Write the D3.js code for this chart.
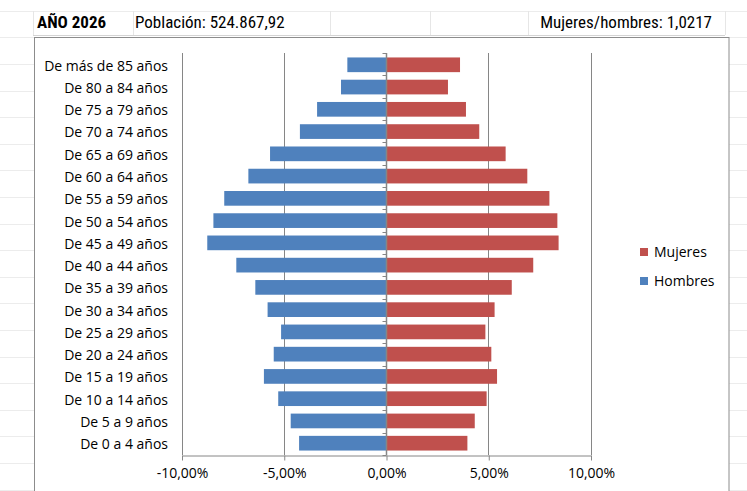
<!DOCTYPE html>
<html><head><meta charset="utf-8">
<script src="https://cdn.jsdelivr.net/npm/d3@7"></script>
<style>
body{margin:0;background:#fff;}
svg{display:block;}
</style></head>
<body><svg id="c" width="747" height="491"></svg>
<script>
const categories = ["De más de 85 años","De 80 a 84 años","De 75 a 79 años","De 70 a 74 años","De 65 a 69 años","De 60 a 64 años","De 55 a 59 años","De 50 a 54 años","De 45 a 49 años","De 40 a 44 años","De 35 a 39 años","De 30 a 34 años","De 25 a 29 años","De 20 a 24 años","De 15 a 19 años","De 10 a 14 años","De 5 a 9 años","De 0 a 4 años"];
const hombres = [1.89,2.20,3.37,4.21,5.67,6.73,7.91,8.44,8.74,7.32,6.39,5.79,5.13,5.49,5.97,5.27,4.66,4.25];
const mujeres = [3.62,3.03,3.91,4.56,5.85,6.91,7.99,8.38,8.44,7.20,6.15,5.31,4.86,5.15,5.43,4.92,4.34,3.98];
const xTicks = [-10,-5,0,5,10];
const seriesNames = ["Mujeres","Hombres"];
const seriesColors = ["#C0504D","#4F81BD"];
const titleYear = "AÑO 2026";
const titlePob = "Población: 524.867,92";
const titleRatio = "Mujeres/hombres: 1,0217";

const svg = d3.select("#c");
const W = 747, H = 491;
const font = "'Open Sans','Lato',sans-serif";
const narrow = "'Liberation Sans Narrow','Roboto Condensed','Liberation Sans',sans-serif";

// spreadsheet background grid
const rowLines = d3.range(10.8, H, 26.6);
svg.append("g").selectAll("line").data(rowLines).join("line")
  .attr("x1",0).attr("x2",W).attr("y1",d=>Math.round(d)+0.5).attr("y2",d=>Math.round(d)+0.5)
  .attr("stroke","#ececec").attr("stroke-width",1);
[33,133,330,430,528,725].forEach(x=>{
  svg.append("line").attr("x1",x+0.5).attr("x2",x+0.5).attr("y1",11).attr("y2",35)
    .attr("stroke","#e6e6e6");
});
svg.append("line").attr("x1",33).attr("x2",725).attr("y1",35.5).attr("y2",35.5).attr("stroke","#d4d4d4");

// titles
svg.append("text").attr("x",37).attr("y",28).text(titleYear)
  .attr("font-family",narrow).attr("font-weight","bold").attr("font-size",17).attr("fill","#000");
svg.append("text").attr("x",135).attr("y",28).text(titlePob)
  .attr("font-family",narrow).attr("font-size",17).attr("fill","#000");
svg.append("text").attr("x",712).attr("y",28).attr("text-anchor","end").text(titleRatio)
  .attr("font-family",narrow).attr("font-size",17).attr("fill","#000");

// chart area
svg.append("rect").attr("x",34.5).attr("y",37.5).attr("width",694.5).attr("height",H)
  .attr("fill","#fff").attr("stroke","#8c8c8c").attr("stroke-width",1);

const x = d3.scaleLinear().domain([-10,10]).range([181.5,590.5]);
const y = d3.scaleBand().domain(categories).range([53,455]).paddingInner(0.34).paddingOuter(0.2);
const plotTop = 53, plotBottom = 455;

// gridlines
svg.append("g").selectAll("line").data(xTicks.filter(d=>d!==0)).join("line")
  .attr("x1",d=>Math.round(x(d))+0.5).attr("x2",d=>Math.round(x(d))+0.5)
  .attr("y1",plotTop).attr("y2",plotBottom)
  .attr("stroke","#868686").attr("stroke-width",1);

// bars
const rows = categories.map((c,i)=>({c, h:hombres[i], m:mujeres[i]}));
svg.append("g").selectAll("rect").data(rows).join("rect")
  .attr("x",d=>x(-d.h)).attr("width",d=>x(0)-x(-d.h))
  .attr("y",d=>y(d.c)).attr("height",y.bandwidth())
  .attr("fill",seriesColors[1]);
svg.append("g").selectAll("rect").data(rows).join("rect")
  .attr("x",x(0)).attr("width",d=>x(d.m)-x(0))
  .attr("y",d=>y(d.c)).attr("height",y.bandwidth())
  .attr("fill",seriesColors[0]);

// bottom axis
const xAxis = d3.axisBottom(x).tickValues(xTicks).tickSize(5).tickSizeOuter(0)
  .tickFormat(d=>d3.format(".2f")(d).replace(".",",").replace("\u2212","-")+"%");
const gx = svg.append("g").attr("transform",`translate(0.5,${plotBottom+0.5})`).call(xAxis);
gx.select(".domain").attr("stroke","#868686");
gx.selectAll(".tick line").attr("stroke","#868686");
gx.selectAll(".tick text").attr("font-family",font).attr("font-size",14).attr("fill","#000")
  .attr("y",13).attr("dy","0.71em");

// vertical axis at 0 with boundary ticks
const zx = Math.round(x(0))+0.5;
svg.append("line").attr("x1",zx).attr("x2",zx).attr("y1",plotTop).attr("y2",plotBottom)
  .attr("stroke","#868686").attr("stroke-width",1.5);
const bounds = d3.range(categories.length+1).map(i=>plotTop + (plotBottom-plotTop)*i/categories.length);
svg.append("g").selectAll("line").data(bounds).join("line")
  .attr("x1",zx-4).attr("x2",zx).attr("y1",d=>Math.round(d)+0.5).attr("y2",d=>Math.round(d)+0.5)
  .attr("stroke","#868686");

// category labels
svg.append("g").selectAll("text").data(categories).join("text")
  .attr("x",168).attr("y",d=>y(d)+y.bandwidth()/2+1).attr("dy","0.35em")
  .attr("text-anchor","end").attr("font-family",font).attr("font-size",14).attr("fill","#000")
  .text(d=>d);

// legend
const lg = svg.append("g");
seriesNames.forEach((n,i)=>{
  const cy = 252 + i*29;
  lg.append("rect").attr("x",640).attr("y",cy-4).attr("width",8).attr("height",8).attr("fill",seriesColors[i]);
  lg.append("text").attr("x",654).attr("y",cy).attr("dy","0.35em")
    .attr("font-family",font).attr("font-size",14).attr("fill","#000").text(n);
});
</script></body></html>
